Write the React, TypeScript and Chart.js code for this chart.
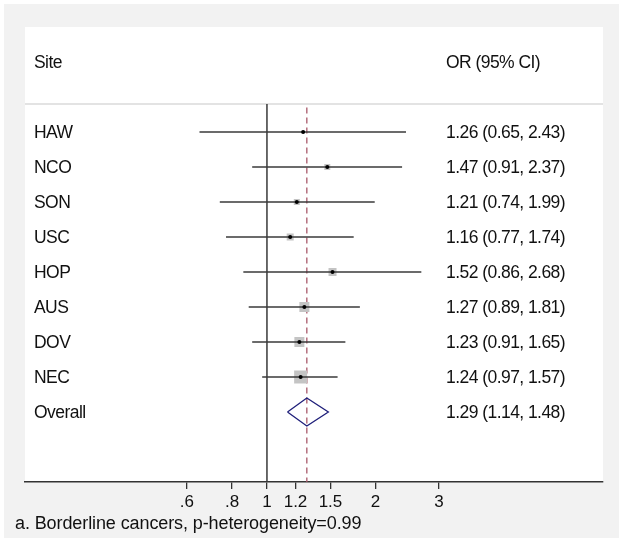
import React, { useEffect, useRef } from "react";
import { Chart, registerables } from "chart.js";

Chart.register(...registerables);

const sites = ["HAW", "NCO", "SON", "USC", "HOP", "AUS", "DOV", "NEC"];
const oddsRatios = [1.26, 1.47, 1.21, 1.16, 1.52, 1.27, 1.23, 1.24];
const lowerCI = [0.65, 0.91, 0.74, 0.77, 0.86, 0.89, 0.91, 0.97];
const upperCI = [2.43, 2.37, 1.99, 1.74, 2.68, 1.81, 1.65, 1.57];
const weights = [1.5, 6.3, 6.3, 8.6, 11.2, 17.5, 17.5, 29.6];
const overallLabel = "Overall";
const overallOR = 1.29;
const overallLo = 1.14;
const overallHi = 1.48;
const tickValues = [0.6, 0.8, 1, 1.2, 1.5, 2, 3];
const tickLabels = [".6", ".8", "1", "1.2", "1.5", "2", "3"];
const headerLeft = "Site";
const headerRight = "OR (95% CI)";
const footnote = "a. Borderline cancers, p-heterogeneity=0.99";

const FAMILY = '"Liberation Sans", Arial, sans-serif';

function fmt(v: number) {
  return v.toFixed(2);
}

export default function App() {
  const ref = useRef<HTMLCanvasElement | null>(null);
  useEffect(() => {
    const canvas = ref.current;
    if (!canvas) return;
    const n = sites.length;
    const overallRow = n;

    const ciDatasets = sites.map((s, i) => ({
      type: "line" as const,
      label: "ci-" + s,
      data: [
        { x: lowerCI[i], y: i },
        { x: upperCI[i], y: i },
      ],
      borderColor: "#3a3a3a",
      borderWidth: 1.4,
      pointRadius: 0,
      tension: 0,
      order: 3,
    }));

    const boxes = {
      type: "scatter" as const,
      label: "boxes",
      data: sites.map((s, i) => ({ x: oddsRatios[i], y: i })),
      pointStyle: "rect",
      pointRadius: (ctx: any) => 1.69 * Math.sqrt(weights[ctx.dataIndex] ?? 1),
      backgroundColor: "#c4c4c4",
      borderWidth: 0,
      order: 4,
    };

    const dots = {
      type: "scatter" as const,
      label: "dots",
      data: sites.map((s, i) => ({ x: oddsRatios[i], y: i })),
      pointStyle: "circle",
      pointRadius: 2,
      backgroundColor: "#000",
      borderWidth: 0,
      order: 1,
    };

    const diamond = {
      type: "line" as const,
      label: "overall",
      data: [
        { x: overallLo, y: overallRow },
        { x: overallOR, y: overallRow - 0.4 },
        { x: overallHi, y: overallRow },
        { x: overallOR, y: overallRow + 0.4 },
        { x: overallLo, y: overallRow },
      ],
      borderColor: "#1f1f7a",
      borderWidth: 1.3,
      pointRadius: 0,
      tension: 0,
      fill: false,
      order: 2,
    };

    const nullLine = {
      type: "line" as const,
      label: "null",
      data: [
        { x: 1, y: -0.8 },
        { x: 1, y: 10 },
      ],
      borderColor: "#3a3a3a",
      borderWidth: 1.5,
      pointRadius: 0,
      order: 6,
    };

    const overallLine = {
      type: "line" as const,
      label: "overall-line",
      data: [
        { x: overallOR, y: -0.7 },
        { x: overallOR, y: 10 },
      ],
      borderColor: "#a8586a",
      borderWidth: 1.3,
      borderDash: [6, 4],
      pointRadius: 0,
      order: 5,
    };

    const textPlugin = {
      id: "forestText",
      beforeDraw(chart: any) {
        const { ctx, chartArea } = chart;
        ctx.save();
        ctx.fillStyle = "#ffffff";
        ctx.fillRect(0, 0, chart.width, chart.height);
        ctx.fillStyle = "#f2f2f2";
        ctx.fillRect(4, 4, 615, 534);
        ctx.fillStyle = "#ffffff";
        ctx.fillRect(chartArea.left, chartArea.top, chartArea.right - chartArea.left, chartArea.bottom - chartArea.top);
        const y = chart.scales.y;
        const sepY = y.getPixelForValue(-0.8);
        ctx.strokeStyle = "#c8c8c8";
        ctx.lineWidth = 1.2;
        ctx.beginPath();
        ctx.moveTo(chartArea.left, sepY);
        ctx.lineTo(chartArea.right, sepY);
        ctx.stroke();
        ctx.restore();
      },
      afterDraw(chart: any) {
        const { ctx, chartArea } = chart;
        const y = chart.scales.y;
        const leftX = chartArea.left + 9;
        const rightX = chartArea.right - 157;
        const dy = 1.5;
        ctx.save();
        ctx.font = `17.5px ${FAMILY}`;
        (ctx as any).letterSpacing = "-0.55px";
        ctx.fillStyle = "#111";
        ctx.textBaseline = "middle";
        ctx.textAlign = "left";
        ctx.fillText(headerLeft, leftX, y.getPixelForValue(-2) + dy);
        ctx.fillText(headerRight, rightX, y.getPixelForValue(-2) + dy);
        sites.forEach((s, i) => {
          const py = y.getPixelForValue(i) + dy;
          ctx.fillText(s, leftX, py);
          ctx.fillText(`${fmt(oddsRatios[i])} (${fmt(lowerCI[i])}, ${fmt(upperCI[i])})`, rightX, py);
        });
        const oy = y.getPixelForValue(overallRow) + dy;
        ctx.fillText(overallLabel, leftX, oy);
        ctx.fillText(`${fmt(overallOR)} (${fmt(overallLo)}, ${fmt(overallHi)})`, rightX, oy);
        ctx.font = `18px ${FAMILY}`;
        (ctx as any).letterSpacing = "-0.1px";
        ctx.fillText(footnote, 15, 524);
        ctx.restore();
      },
    };

    const chart = new Chart(canvas, {
      type: "scatter",
      data: {
        datasets: [...ciDatasets, boxes, dots, diamond, nullLine, overallLine] as any,
      },
      options: {
        animation: false,
        responsive: false,
        maintainAspectRatio: false,
        layout: { padding: { left: 25, right: 21, top: 27, bottom: 31 } },
        plugins: {
          legend: { display: false },
          tooltip: { enabled: false },
        },
        elements: { line: { tension: 0 } },
        scales: {
          x: {
            type: "logarithmic",
            min: 0.2133,
            max: 8.55,
            afterBuildTicks: (axis: any) => {
              axis.ticks = tickValues.map((v) => ({ value: v }));
            },
            afterFit: (axis: any) => {
              axis.height = 30;
            },
            ticks: {
              autoSkip: false,
              maxRotation: 0,
              padding: 3,
              color: "#111",
              font: { family: FAMILY, size: 17 },
              callback: (v: any) => {
                const idx = tickValues.indexOf(Number(v));
                return idx >= 0 ? tickLabels[idx] : "";
              },
            },
            grid: {
              display: true,
              drawOnChartArea: false,
              drawTicks: true,
              tickLength: 7,
              color: "#333",
              lineWidth: 1.3,
            },
            border: { display: true, color: "#333", width: 1.5 },
          },
          y: {
            type: "linear",
            reverse: true,
            min: -3,
            max: 10,
            display: false,
          },
        },
      },
      plugins: [textPlugin],
    } as any);
    return () => chart.destroy();
  }, []);

  return (
    <div style={{ position: "fixed", left: 0, top: 0, width: 624, height: 543 }}>
      <canvas ref={ref} width={624} height={543} style={{ width: 624, height: 543 }} />
    </div>
  );
}
